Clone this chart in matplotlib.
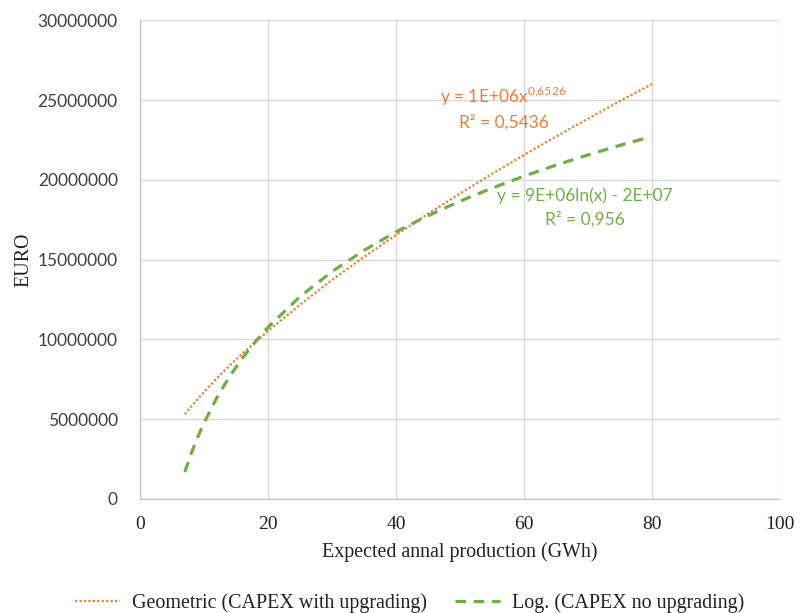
"""CAPEX trend lines vs expected annual production."""

import matplotlib

matplotlib.use("Agg")
import matplotlib.pyplot as plt  # noqa: E402
from matplotlib.ticker import FuncFormatter  # noqa: E402

# values (EURO)
geo_x = [7, 8, 9, 10, 12, 14, 16, 18, 20, 25, 30, 35, 40, 45, 50, 55, 60, 65, 70, 75, 80]
geo_y = [5310000, 5790000, 6250000, 6700000, 7560000, 8360000, 9110000, 9820000,
         10530000, 12170000, 13720000, 15170000, 16540000, 17870000, 19140000,
         20370000, 21560000, 22710000, 23830000, 24940000, 26000000]

log_x = [7, 8, 9, 10, 12, 14, 16, 18, 20, 25, 30, 35, 40, 45, 50, 55, 60, 65, 70, 75, 79]
log_y = [1690000, 2850000, 3860000, 4770000, 6340000, 7680000, 8830000, 9840000,
         10760000, 12680000, 14250000, 15580000, 16740000, 17750000, 18660000,
         19480000, 20230000, 20920000, 21560000, 22160000, 22610000]

x_ticks = [0, 20, 40, 60, 80, 100]
y_ticks = [0, 5000000, 10000000, 15000000, 20000000, 25000000, 30000000]

ORANGE = "#ED7D31"
GREEN = "#70AD47"
SERIF = ["Liberation Serif", "DejaVu Serif"]
SANS = ["Lato", "DejaVu Sans"]

plt.rcParams["mathtext.fontset"] = "custom"
plt.rcParams["mathtext.rm"] = "Lato"

fig = plt.figure(figsize=(8, 6.13), dpi=100)
ax = fig.add_axes([0.175, 0.186, 0.8, 0.781])

ax.plot(geo_x, geo_y, color=ORANGE, linestyle=(0, (1, 1)), linewidth=1.6,
        label="Geometric (CAPEX with upgrading)")
ax.plot(log_x, log_y, color=GREEN, linestyle=(0, (3.3, 2.4)), linewidth=2.3,
        label="Log. (CAPEX no upgrading)")

ax.set_xlim(0, 100)
ax.set_ylim(0, 30000000)
ax.set_xticks(x_ticks)
ax.set_yticks(y_ticks)
ax.yaxis.set_major_formatter(FuncFormatter(lambda v, _: f"{int(v)}"))
ax.grid(True, color="#d9d9d9", linewidth=1)
ax.set_axisbelow(True)
ax.tick_params(axis="x", length=0, labelsize=14, pad=12, labelcolor="#222222")
ax.tick_params(axis="y", length=0, labelsize=12.5, pad=16, labelcolor="#404040")
for lbl in ax.get_xticklabels():
    lbl.set_family(SERIF)
for lbl in ax.get_yticklabels():
    lbl.set_family(SANS)
for side in ("top", "right"):
    ax.spines[side].set_visible(False)
for side in ("left", "bottom"):
    ax.spines[side].set_color("#bfbfbf")

ax.set_xlabel("Expected annal production (GWh)", family=SERIF, fontsize=14.4,
              labelpad=7, color="#222222")
ax.set_ylabel("EURO", family=SERIF, fontsize=14.4, labelpad=3, color="#222222")

ax.text(56.7, 25200000, r"y = 1E+06x$^{\mathrm{0{,}6526}}$", color=ORANGE, family=SANS,
        fontsize=12.5, ha="center", va="center")
ax.text(56.9, 23600000, "R² = 0,5436", color=ORANGE, family=SANS,
        fontsize=12.5, ha="center", va="center")
ax.text(69.5, 19000000, "y = 9E+06ln(x) - 2E+07", color=GREEN, family=SANS,
        fontsize=12.5, ha="center", va="center")
ax.text(69.5, 17500000, "R² = 0,956", color=GREEN, family=SANS,
        fontsize=12.5, ha="center", va="center")

fig.legend(loc="lower center", bbox_to_anchor=(0.512, -0.030), ncol=2, frameon=False,
           prop={"family": SERIF, "size": 14.4}, handlelength=2.25, handletextpad=0.6,
           columnspacing=1.4, labelcolor="#222222")

fig.savefig("out.png", dpi=100)
